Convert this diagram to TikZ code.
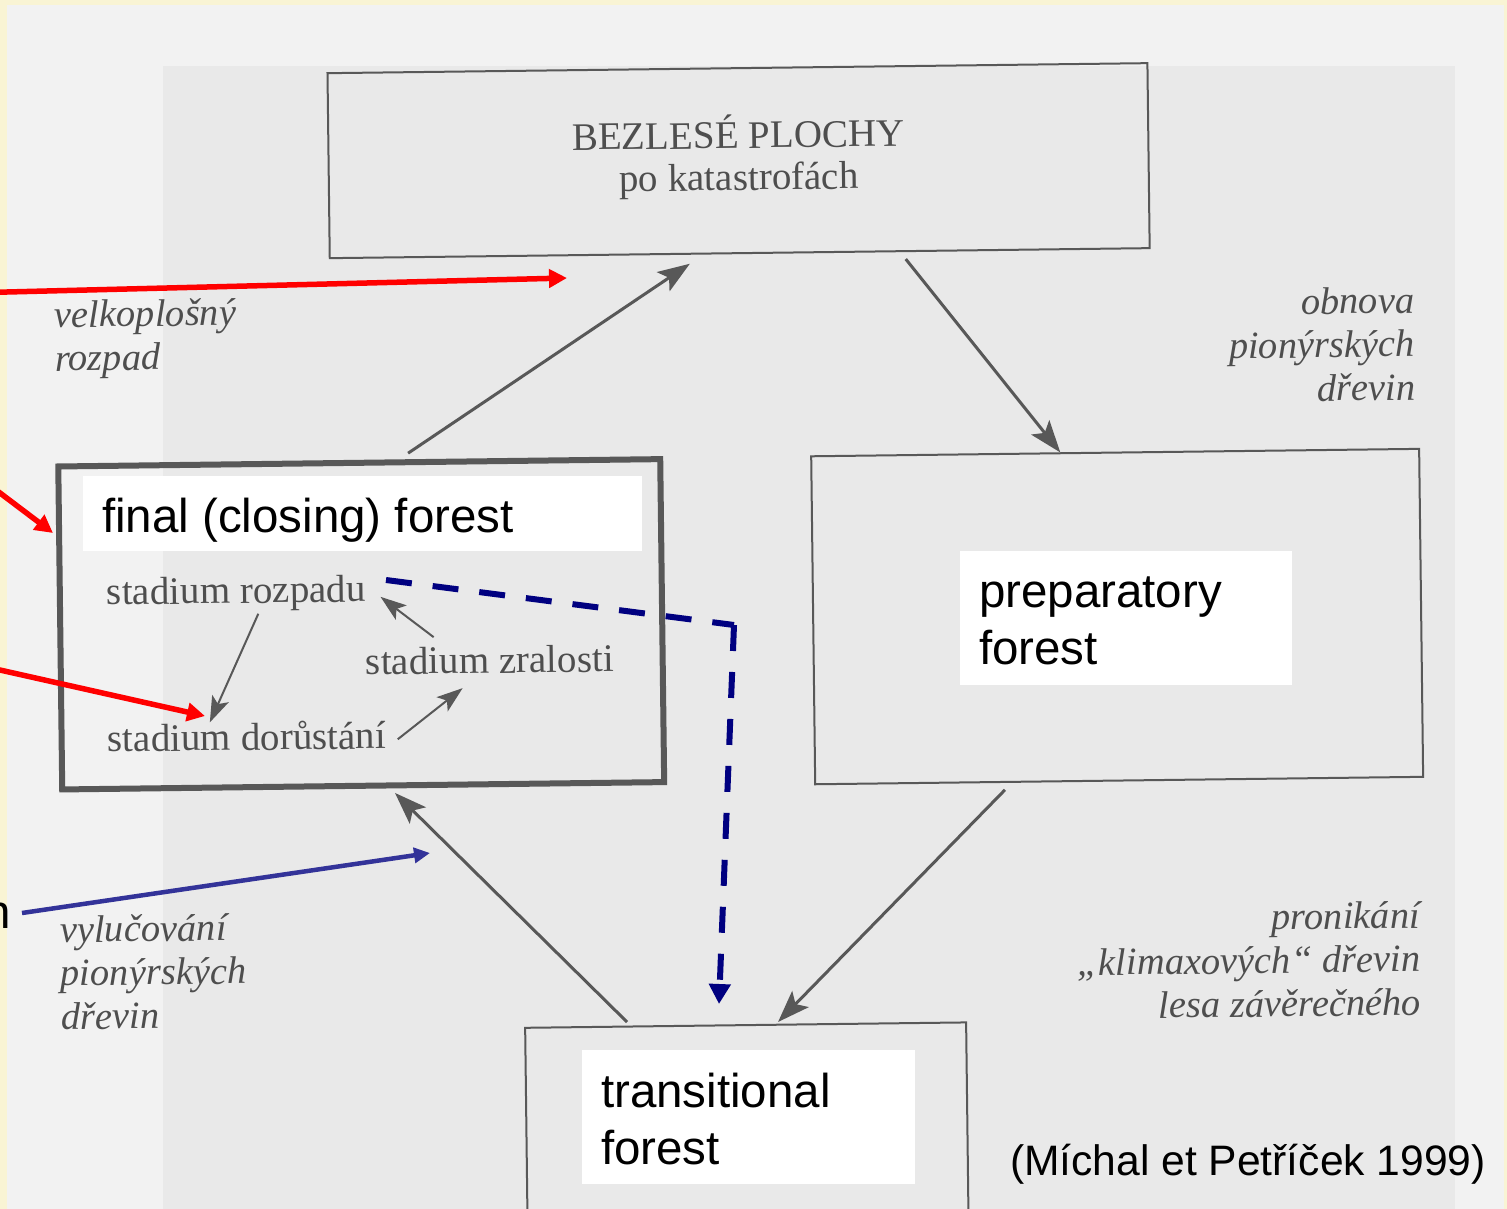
\documentclass[tikz,border=0pt]{standalone}
\usepackage{fontspec}
\setmainfont{Liberation Serif}
\newfontfamily\overlayfont{Liberation Sans}
\usetikzlibrary{arrows.meta,calc}

\definecolor{cream}{RGB}{249,244,212}
\definecolor{paperlight}{RGB}{242,242,242}
\definecolor{paperdark}{RGB}{233,233,233}
\definecolor{printink}{RGB}{78,78,78}
\definecolor{printline}{RGB}{88,88,88}
\definecolor{dashnavy}{RGB}{0,0,128}
\definecolor{pointblue}{RGB}{51,51,153}

\begin{document}
\begin{tikzpicture}[x=1pt,y=-1pt,
  bookbox/.style={draw=printline, line width=2pt, rectangle, inner sep=0pt, outer sep=0pt},
  booktext/.style={text=printink, inner sep=0pt, outer sep=0pt, font=\fontsize{39}{42}\selectfont},
  bookitalic/.style={text=printink, inner sep=0pt, outer sep=0pt, font=\fontsize{38.5}{43.5}\selectfont\itshape},
  bookarrow/.style={draw=printline, line width=3pt, -{Stealth[length=32pt,width=23pt,inset=7pt]}},
  stagearrow/.style={draw=printline, line width=2pt, -{Stealth[length=26pt,width=18pt,inset=6pt]}},
  patch/.style={fill=white, draw=none, inner sep=0pt, outer sep=0pt},
  engtext/.style={text=black, inner sep=0pt, outer sep=0pt, font=\overlayfont\fontsize{47.5}{57}\selectfont},
  redpointer/.style={draw=red, line width=5.5pt, -{Triangle[length=18pt,width=18pt]}},
  bluepointer/.style={draw=pointblue, line width=4.5pt, -{Triangle[length=16pt,width=15pt]}},
  navydash/.style={draw=dashnavy, line width=6pt, dash pattern=on 26pt off 21pt},
]
\useasboundingbox (0,0) rectangle (1507,1209);
\clip (0,0) rectangle (1507,1209);

% paper and surrounding slide colour
\fill[cream] (0,0) rectangle (1507,1209);
\fill[paperlight] (7,5) rectangle (1504,1215);
\fill[paperdark] (163,66) rectangle (1455,1215);

% the printed scheme, slightly tilted on the page
% (multi-line texts are placed by the baseline of their last line)
\begin{scope}[rotate around={0.7:(753.5,604.5)}, transform shape]
  \node[bookbox, minimum width=820pt, minimum height=185pt] (bare) at (744,160.5) {};
  \node[bookbox, line width=6pt, minimum width=602pt, minimum height=323pt] (final) at (361,619.5) {};
  \node[bookbox, minimum width=608pt, minimum height=328pt] (prep) at (1117,621) {};
  \node[bookbox, minimum width=441pt, minimum height=400pt, anchor=north] (trans) at (740.5,1025) {};

  \node[booktext, anchor=base, align=center] (baretext) at (744,190) {BEZLESÉ PLOCHY\\po katastrofách};

  \node[booktext, anchor=base west] (rozpad) at (107,597) {stadium rozpadu};
  \node[booktext, anchor=base west] (zral) at (365,670) {stadium zralosti};
  \node[booktext, anchor=base west] (dorust) at (106,744) {stadium dorůstání};

  \node[bookitalic, anchor=base west, align=left] (velk) at (58,362.5) {velkoplošný\\rozpad};
  \node[bookitalic, anchor=base east, align=right] (obnova) at (1418,408) {obnova\\pionýrských\\dřevin};
  \node[bookitalic, anchor=base west, align=left] (vyluc) at (56,1021) {vylučování\\pionýrských\\dřevin};
  \node[bookitalic, anchor=base east, align=right] (pronik) at (1416,1023) {pronikání\\„klimaxových“ dřevin\\lesa závěrečného};

  % succession cycle
  \draw[bookarrow, shorten <=16.4pt, shorten >=18.3pt]
    ($(final.north west)!0.5586!(final.north east)$) -- ($(bare.south west)!0.4577!(bare.south east)$);
  \draw[bookarrow, shorten <=10.1pt, shorten >=1pt]
    ($(bare.south west)!0.6949!(bare.south east)$) -- ($(prep.north west)!0.4109!(prep.north east)$);
  \draw[bookarrow, shorten <=11.3pt, shorten >=3.8pt]
    ($(prep.south west)!0.3252!(prep.south east)$) -- ($(trans.north west)!0.5676!(trans.north east)$);
  \draw[bookarrow, shorten <=6.3pt, shorten >=10.7pt]
    ($(trans.north west)!0.2413!(trans.north east)$) -- ($(final.south west)!0.5402!(final.south east)$);

  % stages inside the final forest
  \draw[stagearrow, shorten <=2.7pt]
    ($(rozpad.south west)!0.5886!(rozpad.south east)$) -- ($(dorust.north west)!0.368!(dorust.north east)$);
  \draw[stagearrow, shorten <=14.8pt, shorten >=23.4pt]
    (dorust.base east) -- ($(zral.south west)!0.4645!(zral.south east)$);
  \draw[stagearrow, shorten <=15.7pt, shorten >=18.7pt]
    ($(zral.north west)!0.3254!(zral.north east)$) -- ($(rozpad.north east)!0.308!(rozpad.south east)$);
\end{scope}

% English captions on white patches
\node[patch, minimum width=559pt, minimum height=75pt, anchor=north west] (finalpatch) at (83,476) {};
\node[engtext, anchor=base west] (finalname) at (102,532) {final (closing) forest};

\node[patch, minimum width=332pt, minimum height=134pt, anchor=north west] (preppatch) at (960,551) {};
\node[engtext, anchor=base west, align=left] (prepname) at (979,664) {preparatory\\forest};

\node[patch, minimum width=333pt, minimum height=134pt, anchor=north west] (transpatch) at (582,1050) {};
\node[engtext, anchor=base west, align=left] (transname) at (601,1164) {transitional\\forest};

\node[engtext, anchor=base west, font=\overlayfont\fontsize{42.6}{50}\selectfont] (cite) at (1010,1175) {(Míchal et Petříček 1999)};
\node[engtext, anchor=base west] (cutword) at (-15,928) {n};

% pointers coming in from the left
\coordinate (r1a) at (-5,292.3);  \coordinate (r1b) at (567,278);
\coordinate (r2a) at (-5,489.2);  \coordinate (r2b) at (53,533);
\coordinate (r3a) at (-5,668.9);  \coordinate (r3b) at (205,716);
\coordinate (b1a) at (22,913);    \coordinate (b1b) at (430,853);
\draw[redpointer] (r1a) -- (r1b);
\draw[redpointer] (r2a) -- (r2b);
\draw[redpointer] (r3a) -- (r3b);
\draw[bluepointer] (b1a) -- (b1b);

% dashed shortcut from decay to the transitional stage
\coordinate (d0) at (386,580);
\coordinate (d1) at (734,625);
\coordinate (d2) at (719,1004);
\draw[navydash] (d0) -- (d1);
\draw[navydash, -{Triangle[length=20pt,width=21pt]}] (d1) -- (d2);
\end{tikzpicture}
\end{document}
